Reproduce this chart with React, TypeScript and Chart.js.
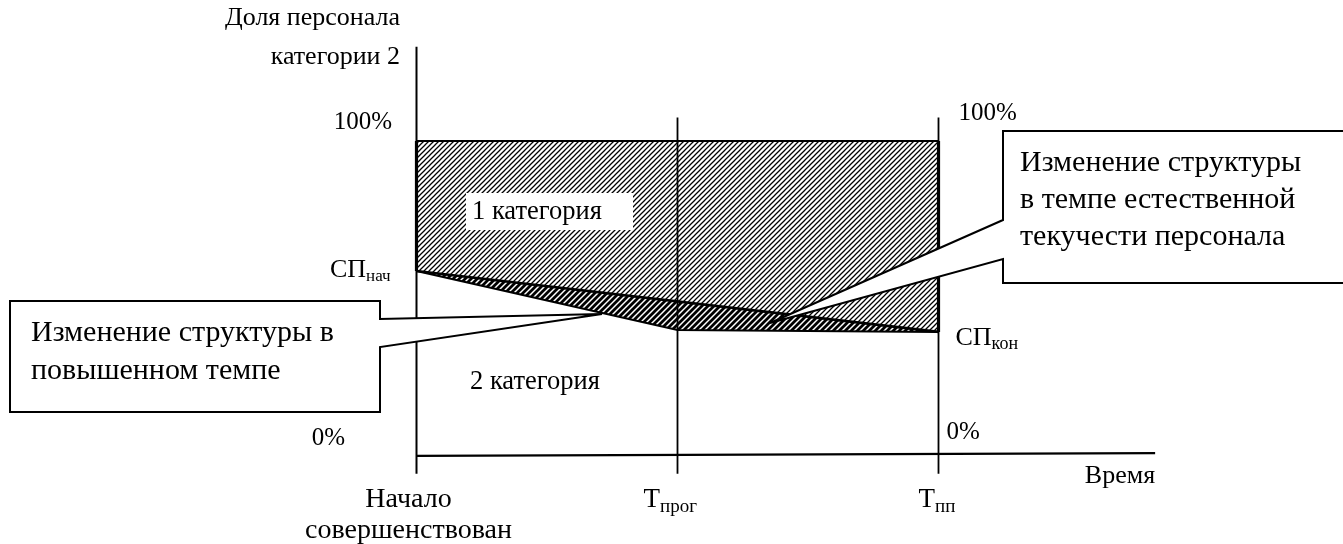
import React, { useEffect, useRef } from "react";
import { Chart, registerables } from "chart.js";

Chart.register(...registerables);

// ---- data ----
const timeLabels = ["Начало", "T", "T"];
const timeSubs = ["", "прог", "пп"];
const timePoints = [0, 1, 2];
const shareTop = [100, 100, 100];
const shareAccelerated = [58.6, 39.8, 39.2];
const shareNatural = [58.6, 39.2]; // at first and last time point
const yTickLabels = ["0%", "100%"];
const yTickValues = [0, 100];
const spLabels = ["СП", "СП"];
const spSubs = ["нач", "кон"];
const axisEndX = 2.83;

// ---- layout ----
const W = 1343;
const H = 544;
const X0 = 416.5;
const XU = 261;
const Y0 = 455;
const YU = 3.14;
const FONT = "'Liberation Serif', 'Times New Roman', serif";

function makePattern(period: number, lw: number) {
  const c = document.createElement("canvas");
  c.width = period;
  c.height = period;
  const g = c.getContext("2d")!;
  g.fillStyle = "#fff";
  g.fillRect(0, 0, period, period);
  g.strokeStyle = "#000";
  g.lineWidth = lw;
  g.beginPath();
  for (let k = -1; k <= 1; k++) {
    g.moveTo(k * period - 1, period + 1);
    g.lineTo(k * period + period + 1, -1);
  }
  g.stroke();
  return g.createPattern(c, "repeat")!;
}

const pt = (xs: number[], ys: number[]) => xs.map((x, i) => ({ x, y: ys[i] }));

const annotations = {
  id: "annotations",
  afterDatasetsDraw(chart: any) {
    const ctx = chart.ctx as CanvasRenderingContext2D;
    const xs = chart.scales.x;
    const ys = chart.scales.y;
    const px = (v: number) => xs.getPixelForValue(v);
    const py = (v: number) => ys.getPixelForValue(v);
    ctx.save();

    // callouts
    const callout = (poly: [number, number][]) => {
      ctx.beginPath();
      poly.forEach(([x, y], i) => (i ? ctx.lineTo(x, y) : ctx.moveTo(x, y)));
      ctx.closePath();
      ctx.fillStyle = "#fff";
      ctx.fill();
      ctx.lineWidth = 2;
      ctx.strokeStyle = "#000";
      ctx.lineJoin = "miter";
      ctx.stroke();
    };
    callout([
      [10, 301],
      [380, 301],
      [380, 319],
      [602, 314],
      [380, 347],
      [380, 412],
      [10, 412],
    ]);
    callout([
      [1003, 131],
      [1360, 131],
      [1360, 283],
      [1003, 283],
      [1003, 259],
      [770, 323],
      [1003, 220],
    ]);

    ctx.fillStyle = "#000";
    ctx.textBaseline = "middle";
    const text = (s: string, x: number, y: number, size: number, align: CanvasTextAlign = "left") => {
      ctx.font = `${size}px ${FONT}`;
      ctx.textAlign = align;
      ctx.fillText(s, x, y);
    };
    const sub = (main: string, s: string, x: number, y: number, size: number, subSize: number) => {
      ctx.font = `${size}px ${FONT}`;
      ctx.textAlign = "left";
      ctx.fillText(main, x, y);
      const w = ctx.measureText(main).width;
      ctx.font = `${subSize}px ${FONT}`;
      ctx.fillText(s, x + w, y + size * 0.25);
    };

    // callout texts
    const CF = 30;
    text("Изменение структуры в", 31, 333, CF);
    text("повышенном темпе", 31, 371, CF);
    text("Изменение структуры", 1020, 163, CF);
    text("в темпе естественной", 1020, 200, CF);
    text("текучести персонала", 1020, 237, CF);

    // axis titles
    text("Доля персонала", 400, 18, 26, "right");
    text("категории 2", 400, 57, 26, "right");
    text("Время", px(axisEndX), 476, 26, "right");

    // y ticks
    text(yTickLabels[1], 392, py(yTickValues[1]) - 19, 25, "right");
    text(yTickLabels[1], px(timePoints[2]) + 20, py(yTickValues[1]) - 28, 25, "left");
    text(yTickLabels[0], 345, py(yTickValues[0]) - 17, 25, "right");
    text(yTickLabels[0], px(timePoints[2]) + 8, py(yTickValues[0]) - 23, 25, "left");

    // СП labels
    sub(spLabels[0], spSubs[0], 330, py(shareAccelerated[0]) - 1, 26, 17);
    sub(spLabels[1], spSubs[1], px(timePoints[2]) + 17, py(shareAccelerated[2]) + 6, 26, 18);

    // category labels
    ctx.fillStyle = "#fff";
    ctx.fillRect(466, 193, 167, 37);
    ctx.fillStyle = "#000";
    text("1 категория", 472, 212, 26.5);
    text("2 категория", 470, 382, 26.5);

    // x tick labels
    text(timeLabels[0], px(timePoints[0]) - 8, 500, 28, "center");
    text("совершенствован", px(timePoints[0]) - 8, 531, 28, "center");
    sub(timeLabels[1], timeSubs[1], px(timePoints[1]) - 34, 500, 27, 19);
    sub(timeLabels[2], timeSubs[2], px(timePoints[2]) - 20, 500, 27, 19);

    ctx.restore();
  },
};

export default function App() {
  const ref = useRef<HTMLCanvasElement>(null);
  useEffect(() => {
    const light = makePattern(5, 1.25);
    const dark = makePattern(6, 2.8);
    const upper = [
      ...pt(timePoints, shareTop),
      ...pt([...timePoints].reverse(), [...shareAccelerated].reverse()),
    ];
    const triangle = [
      ...pt([timePoints[0], timePoints[2]], shareNatural),
      ...pt([timePoints[1], timePoints[0]], [shareAccelerated[1], shareAccelerated[0]]),
    ];
    const lineDs = (data: any[], width: number, order = 1) => ({
      data,
      showLine: true,
      borderColor: "#000",
      borderWidth: width,
      pointRadius: 0,
      tension: 0,
      fill: false,
      order,
    });
    const last = timePoints.length - 1;
    const chart = new Chart(ref.current!, {
      type: "scatter",
      data: {
        datasets: [
          {
            data: upper,
            showLine: true,
            borderColor: "transparent",
            borderWidth: 0,
            backgroundColor: light as any,
            pointRadius: 0,
            fill: "shape",
            order: 10,
          },
          {
            data: triangle,
            showLine: true,
            borderColor: "transparent",
            borderWidth: 0,
            backgroundColor: dark as any,
            pointRadius: 0,
            fill: "shape",
            order: 9,
          },
          // axes and time markers
          lineDs(pt([timePoints[0], timePoints[0]], [-6, 130]), 2),
          lineDs(pt([timePoints[1], timePoints[1]], [-6, 107.5]), 1.8),
          lineDs(pt([timePoints[2], timePoints[2]], [-6, 107.5]), 1.8),
          lineDs(pt([timePoints[0], axisEndX], [-0.3, 0.6]), 2.2),
          // region borders
          lineDs(pt([timePoints[0], timePoints[last]], [shareTop[0], shareTop[last]]), 2),
          lineDs(pt([timePoints[0], timePoints[0]], [shareTop[0], shareAccelerated[0]]), 3.2),
          lineDs(pt([timePoints[last], timePoints[last]], [shareTop[last], shareAccelerated[last]]), 3.2),
          lineDs(pt([timePoints[0], timePoints[last]], shareNatural), 2.6),
          lineDs(pt(timePoints, shareAccelerated), 2),
        ],
      },
      options: {
        animation: false,
        responsive: false,
        events: [],
        layout: { padding: 0 },
        plugins: { legend: { display: false }, tooltip: { enabled: false } },
        scales: {
          x: { type: "linear", display: false, min: -X0 / XU, max: (W - X0) / XU },
          y: { type: "linear", display: false, min: -(H - Y0) / YU, max: Y0 / YU },
        },
      },
      plugins: [annotations],
    });
    return () => chart.destroy();
  }, []);
  return (
    <div style={{ position: "absolute", left: 0, top: 0, width: W, height: H, background: "#fff" }}>
      <canvas ref={ref} width={W} height={H} style={{ display: "block" }} />
    </div>
  );
}
